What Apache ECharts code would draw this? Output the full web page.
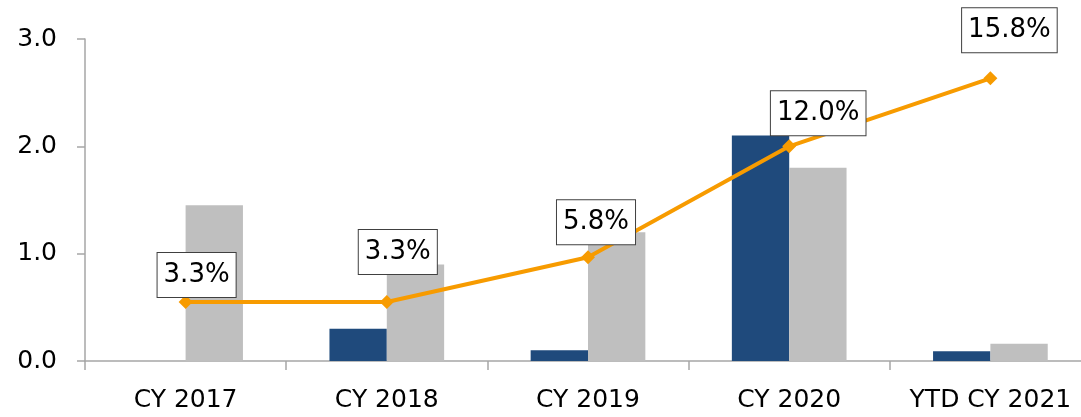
<!DOCTYPE html>
<html>
<head>
<meta charset="utf-8">
<script src="https://cdn.jsdelivr.net/npm/echarts@6/dist/echarts.min.js"></script>
<style>
  html, body { margin: 0; padding: 0; background: #fff; }
  #main { width: 1081px; height: 417px; }
</style>
</head>
<body>
<div id="main"></div>
<script>
var categories = ['CY 2017', 'CY 2018', 'CY 2019', 'CY 2020', 'YTD CY 2021'];
var blueValues = [0, 0.3, 0.1, 2.1, 0.09];
var grayValues = [1.45, 0.9, 1.2, 1.8, 0.16];
var pctValues = [3.3, 3.3, 5.8, 12.0, 15.8];
var yTicks = [0, 1, 2, 3];

var myChart = echarts.init(document.getElementById('main'));

// labels were placed by hand in the original, so nudge each one
var labelShift = [[11, 7], [11, -16], [8, -1], [29, 1], [19, -14]];
var lineData = pctValues.map(function (v, i) {
  return { value: v, label: { offset: labelShift[i] } };
});

var font = 'DejaVu Sans';

var option = {
  animation: false,
  grid: {
    left: 85,
    top: 39,
    width: 1006,
    height: 322,
    outerBoundsMode: 'none'
  },
  xAxis: {
    type: 'category',
    data: categories,
    axisLine: { lineStyle: { color: '#a6a6a6', width: 1.5 } },
    axisTick: { show: true, length: 9, lineStyle: { color: '#a6a6a6', width: 1.5 } },
    axisLabel: { color: '#000', fontFamily: font, fontSize: 25, margin: 27, interval: 0 }
  },
  yAxis: [
    {
      type: 'value',
      min: yTicks[0],
      max: yTicks[yTicks.length - 1],
      interval: 1,
      splitLine: { show: false },
      axisLine: { show: true, lineStyle: { color: '#a6a6a6', width: 1.5 } },
      axisTick: { show: true, length: 8, lineStyle: { color: '#a6a6a6', width: 1.5 } },
      axisLabel: {
        color: '#000', fontFamily: font, fontSize: 25, margin: 28,
        formatter: function (v) { return v.toFixed(1); }
      }
    },
    {
      // hidden scale for the percentage line (3.0 on the left = 18%)
      type: 'value',
      min: 0,
      max: 18,
      show: false
    }
  ],
  series: [
    {
      type: 'bar',
      data: blueValues,
      barGap: '0%',
      barCategoryGap: '43%',
      itemStyle: { color: '#1F4A7C' }
    },
    {
      type: 'bar',
      data: grayValues,
      itemStyle: { color: '#BFBFBF' }
    },
    {
      type: 'line',
      yAxisIndex: 1,
      data: lineData,
      symbol: 'diamond',
      symbolSize: 14,
      lineStyle: { color: '#F79B00', width: 4 },
      itemStyle: { color: '#F79B00' },
      z: 5,
      label: {
        show: true,
        position: 'top',
        distance: 5,
        color: '#000',
        fontFamily: font,
        fontSize: 26,
        lineHeight: 32,
        backgroundColor: '#fff',
        borderColor: '#404040',
        borderWidth: 1,
        padding: [6, 6],
        formatter: function (p) { return p.value.toFixed(1) + '%'; }
      }
    }
  ]
};

myChart.setOption(option);
</script>
</body>
</html>
